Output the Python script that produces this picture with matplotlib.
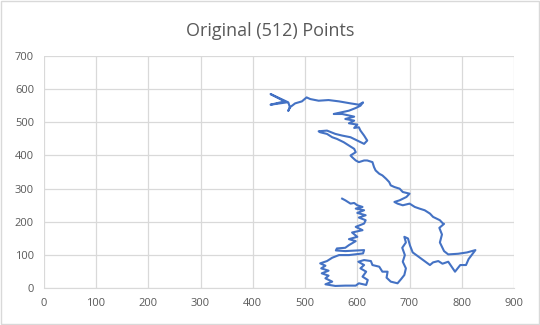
import matplotlib
matplotlib.use("Agg")
import matplotlib.pyplot as plt
from matplotlib.patches import Rectangle

title = "Original (512) Points"
x_ticks = [0, 100, 200, 300, 400, 500, 600, 700, 800, 900]
y_ticks = [0, 100, 200, 300, 400, 500, 600, 700]

# traced contour (x values)
xs = [571, 577, 587, 594, 600, 610, 597, 613, 600, 616, 603, 616,
      613, 597, 610, 590, 600, 584, 597, 584, 577, 561, 559, 577, 613, 611,
      584, 565, 552, 542, 529, 539, 531, 545, 532, 545, 539, 552, 539, 558,
      577, 597, 603, 617, 620, 610, 617, 606, 613, 602, 613, 626, 629, 642,
      648, 658, 656, 664, 677, 684, 690, 693, 687, 691, 686, 693, 690, 697,
      701, 706, 713, 726, 739, 745, 755, 763, 774, 787, 797, 808, 813, 826,
      810, 793, 774, 766, 758, 762, 757, 766,
      764, 758, 745, 739, 729, 719, 710, 700, 687, 677, 671, 681, 694, 700,
      687, 681, 671, 664, 661, 655, 648, 642, 635, 632, 629, 619, 613, 603,
      597, 590, 587,
      597, 594, 584, 574, 561, 552, 542, 529, 526, 542, 558, 571, 587, 600,
      613, 619, 613, 606, 603, 594, 600, 584, 594, 577, 594, 571, 555, 584,
      597, 606, 611, 603, 587, 565, 545, 526, 510, 503, 494, 481, 471, 468,
      471, 468, 434, 461, 434, 465]
# traced contour (y values)
ys = [270, 265, 255, 257, 250, 245, 240, 235, 227, 220, 213, 205,
      195, 185, 175, 168, 155, 148, 142, 130, 122, 120, 114, 112, 115, 105,
      100, 100, 92, 82, 75, 68, 60, 53, 45, 38, 30, 20, 12, 7,
      8, 8, 15, 10, 25, 35, 50, 60, 70, 80, 85, 82, 70, 65,
      50, 50, 32, 20, 15, 28, 40, 60, 80, 100, 122, 138, 155, 150,
      128, 108, 100, 85, 70, 78, 82, 74, 80, 50, 70, 70, 88, 115,
      108, 104, 102, 112, 138, 162, 182, 194,
      195, 205, 215, 225, 235, 240, 245, 255, 250, 255, 260, 265, 275, 285,
      290, 300, 305, 310, 320, 330, 340, 345, 355, 365, 380, 385, 385, 380,
      385, 395, 400,
      410, 420, 430, 440, 450, 455, 465, 470, 473, 475, 465, 460, 455, 445,
      435, 445, 460, 475, 485, 483, 493, 497, 505, 510, 517, 525, 525, 535,
      543, 550, 560, 553, 557, 563, 567, 565, 570, 575, 563, 557, 545, 535,
      545, 560, 585, 563, 553, 560]

fig = plt.figure(figsize=(5.4, 3.25), dpi=100)
fig.patches.append(Rectangle((0.002, 0.003), 0.996, 0.994, transform=fig.transFigure,
                             fill=False, edgecolor="#d9d9d9", linewidth=1))
ax = fig.add_axes([0.081, 0.113, 0.871, 0.715])
ax.plot(xs, ys, color="#4472C4", linewidth=1.5, solid_joinstyle="round")
ax.set_xlim(0, 900)
ax.set_ylim(0, 700)
ax.set_xticks(x_ticks)
ax.set_yticks(y_ticks)
ax.grid(True, color="#d9d9d9", linewidth=0.9)
ax.set_axisbelow(True)
for s in ["top", "right", "left"]:
    ax.spines[s].set_visible(False)
ax.spines["bottom"].set_color("#d9d9d9")
ax.tick_params(length=0, labelsize=8, labelcolor="#595959", pad=7)
for lab in ax.get_xticklabels() + ax.get_yticklabels():
    lab.set_fontfamily("Open Sans")
fig.text(0.5, 0.905, title, ha="center", va="center", fontsize=13,
         color="#595959", family="Open Sans")
fig.savefig("out.png", dpi=100)
